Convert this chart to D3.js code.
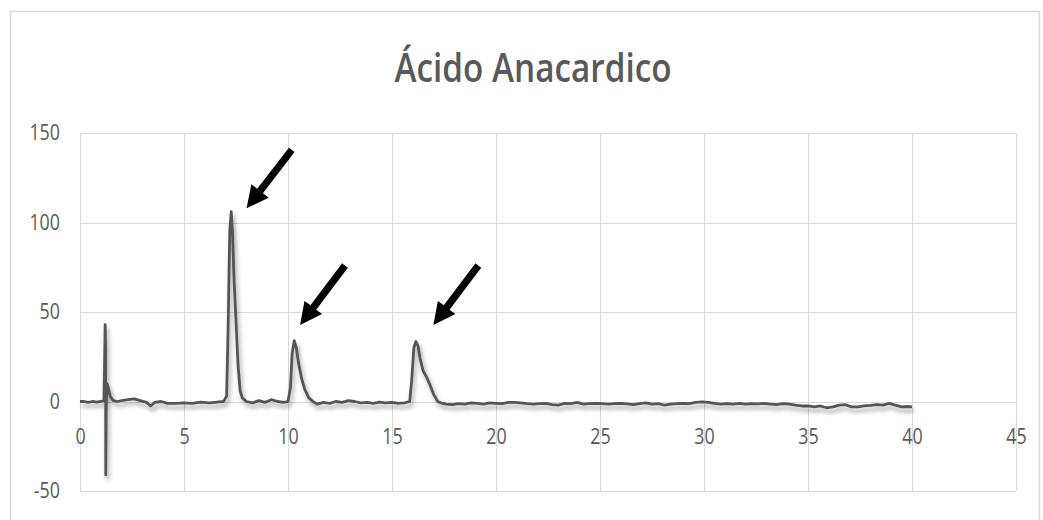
<!DOCTYPE html>
<html>
<head>
<meta charset="utf-8">
<script src="https://cdn.jsdelivr.net/npm/d3@7"></script>
<style>
  body { margin: 0; background: #fff; }
  text { font-family: "Open Sans", sans-serif; fill: #595959; }
</style>
</head>
<body>
<script>
// chart title
var title = "Ácido Anacardico";

// retention time (min)
var rt = [0.0, 0.2, 0.4, 0.6, 0.8, 1.0, 1.15, 1.18, 1.21, 1.23, 1.24, 1.26, 1.3, 1.35, 1.45, 1.6, 1.8,
  2.0, 2.3, 2.6, 2.9, 3.2, 3.4, 3.6, 3.9, 4.2, 4.6, 5.0, 5.4, 5.8, 6.2, 6.6, 6.9,
  7.05, 7.12, 7.2, 7.27, 7.33, 7.4, 7.5, 7.6, 7.7, 7.8, 8.0, 8.3, 8.6, 8.9, 9.2, 9.5, 9.8,
  10.0, 10.12, 10.2, 10.3, 10.4, 10.5, 10.65, 10.8, 11.0, 11.2, 11.4, 11.7, 12.0, 12.3, 12.6, 12.9,
  13.2, 13.5, 13.8, 14.1, 14.4, 14.7, 15.0, 15.3, 15.6, 15.85, 15.95, 16.05, 16.15, 16.25, 16.35,
  16.5, 16.65, 16.8, 17.0, 17.2, 17.4, 17.6, 17.9, 18.2, 18.5, 18.8, 19.1, 19.4, 19.7, 20.0,
  20.3, 20.6, 20.9, 21.2, 21.5, 21.8, 22.1, 22.4, 22.7, 23.0, 23.3, 23.6, 23.9, 24.2, 24.5, 24.8,
  25.1, 25.4, 25.7, 26.0, 26.3, 26.6, 26.9, 27.2, 27.5, 27.8, 28.1, 28.4, 28.7, 29.0, 29.3, 29.6,
  29.9, 30.2, 30.5, 30.8, 31.1, 31.4, 31.7, 32.0, 32.3, 32.6, 32.9, 33.2, 33.5, 33.8, 34.1, 34.4,
  34.7, 35.0, 35.3, 35.6, 35.9, 36.2, 36.5, 36.8, 37.1, 37.4, 37.7, 38.0, 38.3, 38.6, 38.9, 39.2,
  39.5, 39.8, 40.0];

// detector signal at each retention time
var signal = [0, 0, -0.5, 0, -0.3, 0, 0.5, 20, 43, 30, -41, -5, 10, 8, 3, 0.5, 0,
  0.5, 1, 1.5, 0.5, -0.5, -2.5, -0.5, 0, -1, -1, -0.8, -1, -0.3, -0.8, -0.3, 0,
  3, 40, 95, 106, 95, 70, 45, 20, 6, 2, 0, -0.8, 0.5, -0.5, 1, 0, -0.5,
  0, 8, 27, 34, 30, 22, 13, 7, 2, 0, -1.5, -0.5, -1, 0, -0.5, 0.5,
  0, -0.8, -0.5, -1, -0.3, -0.8, -0.5, -1, -0.8, 0, 12, 30, 33.5, 31, 24,
  17, 14, 10, 4, 0, -1, -1.5, -1.8, -1.2, -1.5, -0.8, -1, -1.5, -0.8, -1,
  -1.2, -0.5, -0.5, -0.8, -1.2, -1.5, -1.2, -1, -1.8, -2, -1, -1.2, -0.5, -1.5, -1.2, -1,
  -1.2, -1.5, -1.2, -1, -1.3, -1.8, -1.2, -0.8, -1.5, -1.2, -2, -1.5, -1.2, -1, -1.2, -0.5,
  -0.2, -0.5, -1, -1.5, -1.2, -1.5, -1, -1.5, -1.2, -1.3, -1, -1.5, -1.8, -1.2, -1.5, -2,
  -2.5, -2.5, -3, -2.5, -3.5, -3, -2, -1.8, -3, -3, -2.5, -2.2, -1.8, -2, -1, -2,
  -3, -2.8, -3];

// axis ticks
var xTicks = [0, 5, 10, 15, 20, 25, 30, 35, 40, 45];
var yTicks = [-50, 0, 50, 100, 150];

// arrows pointing at the peaks: [tail x, tail y, head x, head y] in data units
var arrows = [
  [10.18, 140.6, 8.01, 107.9],
  [12.74, 76.0, 10.58, 42.7],
  [19.15, 76.0, 16.99, 42.7]
];

var width = 1043, height = 520;
var margin = {top: 133, right: 27, bottom: 29, left: 80};

var svg = d3.select("body").append("svg")
  .attr("width", width)
  .attr("height", height);

// drop shadow like the spreadsheet's line effect
var filter = svg.append("defs").append("filter")
  .attr("id", "shadow")
  .attr("x", "-5%").attr("y", "-20%")
  .attr("width", "110%").attr("height", "140%");
filter.append("feDropShadow")
  .attr("dx", 2).attr("dy", 4)
  .attr("stdDeviation", 2.2)
  .attr("flood-color", "#000")
  .attr("flood-opacity", 0.35);

// chart frame
svg.append("rect")
  .attr("x", 10.5).attr("y", 11.5)
  .attr("width", 1029).attr("height", 530)
  .attr("fill", "none")
  .attr("stroke", "#d9d9d9")
  .attr("stroke-width", 1.5);

svg.append("text")
  .attr("x", 533).attr("y", 82)
  .attr("text-anchor", "middle")
  .attr("font-size", 40)
  .attr("font-weight", 600)
  .attr("fill", "#505050")
  .attr("textLength", 277)
  .attr("lengthAdjust", "spacingAndGlyphs")
  .text(title);

var x = d3.scaleLinear().domain([0, 45]).range([margin.left, width - margin.right]);
var y = d3.scaleLinear().domain([-50, 150]).range([height - margin.bottom, margin.top]);

// gridlines
svg.append("g")
  .selectAll("line")
  .data(xTicks)
  .enter().append("line")
  .attr("x1", function(d) { return Math.round(x(d)) + 0.5; })
  .attr("x2", function(d) { return Math.round(x(d)) + 0.5; })
  .attr("y1", y(150)).attr("y2", y(-50))
  .attr("stroke", "#d9d9d9");

svg.append("g")
  .selectAll("line")
  .data(yTicks)
  .enter().append("line")
  .attr("x1", x(0)).attr("x2", x(45))
  .attr("y1", function(d) { return Math.round(y(d)) + 0.5; })
  .attr("y2", function(d) { return Math.round(y(d)) + 0.5; })
  .attr("stroke", "#d9d9d9");

// y axis labels
var yAxis = svg.append("g")
  .attr("transform", "translate(" + (x(0) - 20) + ",0)")
  .call(d3.axisLeft(y).tickValues(yTicks).tickSize(0).tickFormat(function(d) { return String(d); }));
yAxis.select(".domain").remove();
yAxis.selectAll("text")
  .attr("x", 0)
  .attr("font-size", 21)
  .attr("font-family", "Open Sans, sans-serif")
  .attr("fill", "#595959")
  .attr("transform", "scale(0.85,1)");

// x axis labels sit under the zero line
var xAxis = svg.append("g")
  .attr("transform", "translate(0," + y(0) + ")")
  .call(d3.axisBottom(x).tickValues(xTicks).tickSize(0).tickFormat(function(d) { return String(d); }));
xAxis.select(".domain").remove();
xAxis.selectAll(".tick text")
  .attr("y", 28)
  .attr("x", 0)
  .attr("font-size", 21)
  .attr("font-family", "Open Sans, sans-serif")
  .attr("fill", "#595959")
  .attr("transform", "scale(0.85,1)");

// chromatogram trace
var points = rt.map(function(t, i) { return [t, signal[i]]; });
var line = d3.line()
  .x(function(d) { return x(d[0]); })
  .y(function(d) { return y(d[1]); });

svg.append("path")
  .datum(points)
  .attr("d", line)
  .attr("fill", "none")
  .attr("stroke", "#555555")
  .attr("stroke-width", 2.8)
  .attr("stroke-linejoin", "round")
  .attr("filter", "url(#shadow)");

// arrows
function arrowPath(a)
{
  var x0 = x(a[0]), y0 = y(a[1]), x1 = x(a[2]), y1 = y(a[3]);
  var dx = x1 - x0, dy = y1 - y0;
  var len = Math.sqrt(dx * dx + dy * dy);
  var ux = dx / len, uy = dy / len;
  var nx = -uy, ny = ux;
  var headLen = 22, headW = 11, shaftW = 3.6;
  var bx = x1 - ux * headLen, by = y1 - uy * headLen;
  var pts = [
    [x0 + nx * shaftW, y0 + ny * shaftW],
    [bx + nx * shaftW, by + ny * shaftW],
    [bx + nx * headW, by + ny * headW],
    [x1, y1],
    [bx - nx * headW, by - ny * headW],
    [bx - nx * shaftW, by - ny * shaftW],
    [x0 - nx * shaftW, y0 - ny * shaftW]
  ];
  return "M" + pts.map(function(p) { return p[0] + "," + p[1]; }).join("L") + "Z";
}

svg.append("g")
  .selectAll("path")
  .data(arrows)
  .enter().append("path")
  .attr("d", arrowPath)
  .attr("fill", "#000");
</script>
</body>
</html>
